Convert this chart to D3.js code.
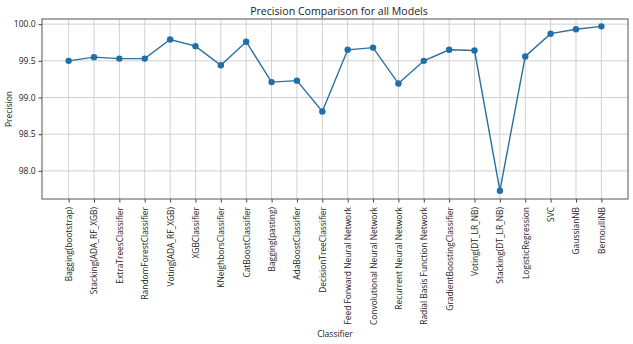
<!DOCTYPE html>
<html><head><meta charset="utf-8">
<script src="https://cdn.jsdelivr.net/npm/d3@7"></script>
<style>body{margin:0;background:#fff}svg{display:block}text{font-family:"Open Sans",sans-serif;fill:#222}</style>
</head><body><svg id="c" width="633" height="344"></svg>
<script>
const categories = ["Bagging(bootstrap)","Stacking(ADA_RF_XGB)","ExtraTreesClassifier","RandomForestClassifier","Voting(ADA_RF_XGB)","XGBClassifier","KNeighborsClassifier","CatBoostClassifier","Bagging(pasting)","AdaBoostClassifier","DecisionTreeClassifier","Feed Forward Neural Network","Convolutional Neural Network","Recurrent Neural Network","Radial Basis Function Network","GradientBoostingClassifier","Voting(DT_LR_NB)","Stacking(DT_LR_NB)","LogisticRegression","SVC","GaussianNB","BernoulliNB"];
const precision = [99.50,99.55,99.53,99.53,99.79,99.70,99.44,99.76,99.21,99.23,98.81,99.65,99.68,99.19,99.50,99.65,99.64,97.73,99.56,99.87,99.93,99.97];
const yTicks = [98.0,98.5,99.0,99.5,100.0];

const svg = d3.select("#c");
const L=42, R=628, T=19, B=199;
const x = d3.scaleLinear().domain([-1.05, categories.length-1+1.05]).range([L,R]);
const y = d3.scaleLinear().domain([97.617,100.07]).range([B,T]);

// grid
svg.append("g").selectAll("line").data(categories).join("line")
  .attr("x1",(d,i)=>x(i)).attr("x2",(d,i)=>x(i)).attr("y1",T).attr("y2",B)
  .attr("stroke","#d0d0d0").attr("stroke-width",1);
svg.append("g").selectAll("line").data(yTicks).join("line")
  .attr("x1",L).attr("x2",R).attr("y1",d=>y(d)).attr("y2",d=>y(d))
  .attr("stroke","#d0d0d0").attr("stroke-width",1);

// axes
const xa = d3.axisBottom(x).tickValues(d3.range(categories.length)).tickFormat(i=>categories[i]).tickSize(3.5).tickPadding(3);
const gx = svg.append("g").attr("transform",`translate(0,${B})`).call(xa);
gx.select(".domain").remove();
gx.selectAll(".tick line").attr("stroke","#444");
gx.selectAll(".tick text").attr("transform","rotate(-90)").attr("text-anchor","end")
  .attr("x",-8).attr("y",0).attr("dy","0.35em").style("font-size","8.4px").style("fill","#222");

const ya = d3.axisLeft(y).tickValues(yTicks).tickFormat(d3.format(".1f")).tickSize(3.5).tickPadding(3);
const gy = svg.append("g").attr("transform",`translate(${L},0)`).call(ya);
gy.select(".domain").remove();
gy.selectAll(".tick line").attr("stroke","#444");
gy.selectAll(".tick text").style("font-size","8.5px").style("fill","#222");

svg.append("rect").attr("x",L).attr("y",T).attr("width",R-L).attr("height",B-T)
  .attr("fill","none").attr("stroke","#555").attr("stroke-width",1);

// line
svg.append("path").datum(precision)
  .attr("d",d3.line().x((d,i)=>x(i)).y(d=>y(d)))
  .attr("fill","none").attr("stroke","#2a6f9e").attr("stroke-width",1.4);
svg.append("g").selectAll("circle").data(precision).join("circle")
  .attr("cx",(d,i)=>x(i)).attr("cy",d=>y(d)).attr("r",3.2).attr("fill","#1f6fa8");

// labels
svg.append("text").attr("x",(L+R)/2+4).attr("y",15).attr("text-anchor","middle").style("font-size","10.6px").text("Precision Comparison for all Models");
svg.append("text").attr("transform",`translate(12,${(T+B)/2}) rotate(-90)`).attr("text-anchor","middle").style("font-size","8.5px").text("Precision");
svg.append("text").attr("x",(L+R)/2).attr("y",337).attr("text-anchor","middle").style("font-size","8.5px").text("Classifier");
</script></body></html>
